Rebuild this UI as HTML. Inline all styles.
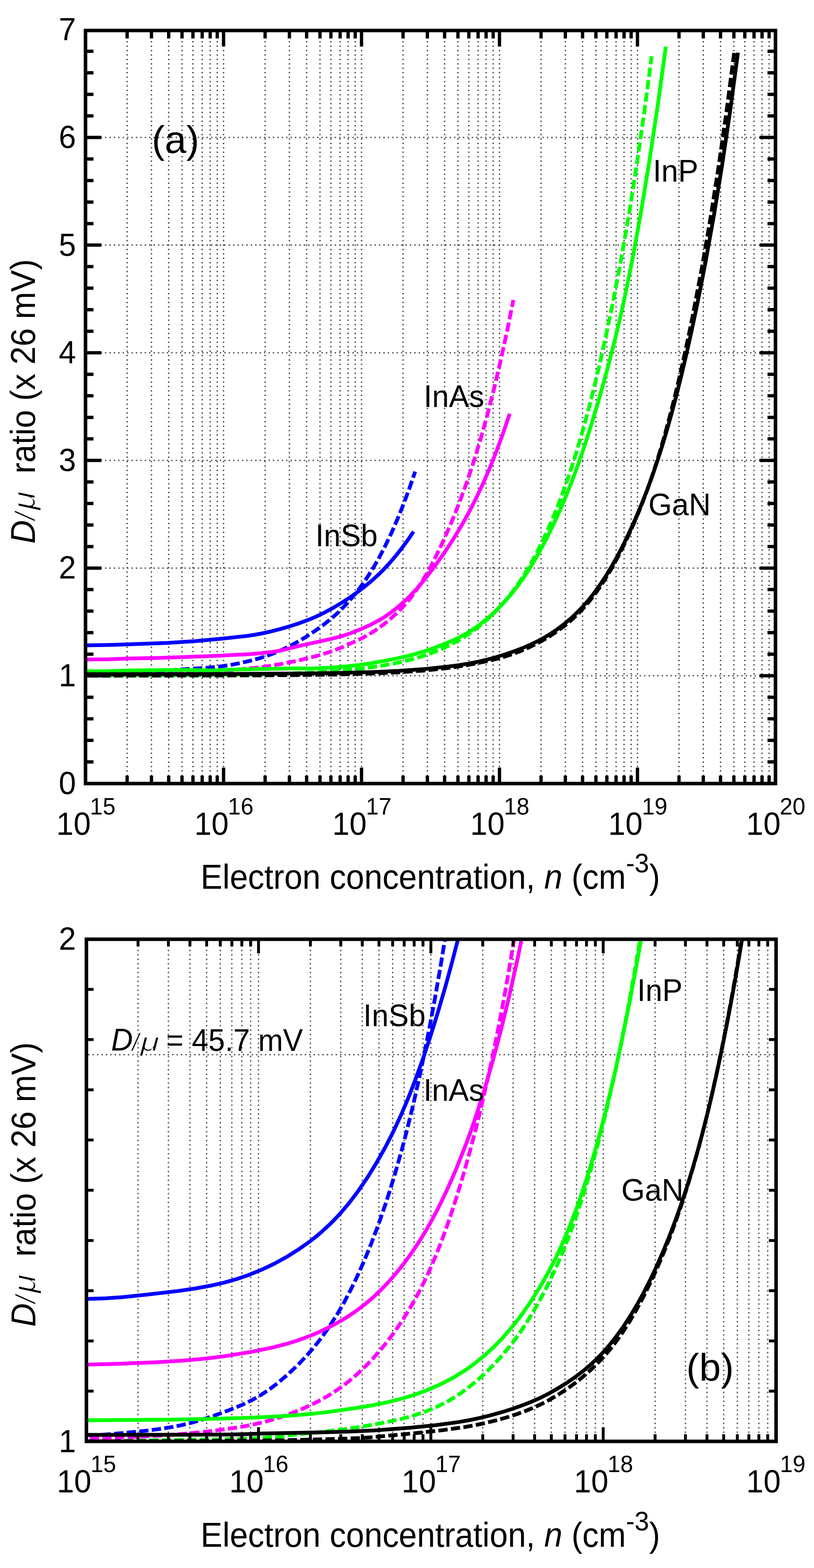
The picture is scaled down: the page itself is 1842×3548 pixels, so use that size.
<!DOCTYPE html><html><head><meta charset="utf-8"><style>html,body{margin:0;padding:0;background:#fff}svg{display:block}text{font-family:"Liberation Sans",Arial,sans-serif;fill:#000}.i{font-style:italic}</style></head><body>
<svg width="1842" height="3548" viewBox="0 0 1842 3548">
<rect width="1842" height="3548" fill="#fff"/>
<defs><clipPath id="ca"><rect x="193.5" y="69.0" width="1561.3" height="1704.0"/></clipPath><clipPath id="cb"><rect x="195.5" y="2125.3" width="1560.7" height="1136.2"/></clipPath></defs>
<path d="M287.7 73.0V1769.0M342.7 73.0V1769.0M381.7 73.0V1769.0M411.9 73.0V1769.0M436.6 73.0V1769.0M457.5 73.0V1769.0M475.6 73.0V1769.0M491.6 73.0V1769.0M505.9 73.0V1769.0M599.9 73.0V1769.0M654.9 73.0V1769.0M693.9 73.0V1769.0M724.1 73.0V1769.0M748.8 73.0V1769.0M769.7 73.0V1769.0M787.8 73.0V1769.0M803.8 73.0V1769.0M818.1 73.0V1769.0M912.1 73.0V1769.0M967.1 73.0V1769.0M1006.1 73.0V1769.0M1036.3 73.0V1769.0M1061.0 73.0V1769.0M1081.9 73.0V1769.0M1100.0 73.0V1769.0M1116.0 73.0V1769.0M1130.3 73.0V1769.0M1224.3 73.0V1769.0M1279.3 73.0V1769.0M1318.3 73.0V1769.0M1348.5 73.0V1769.0M1373.2 73.0V1769.0M1394.1 73.0V1769.0M1412.2 73.0V1769.0M1428.2 73.0V1769.0M1442.5 73.0V1769.0M1536.5 73.0V1769.0M1591.5 73.0V1769.0M1630.5 73.0V1769.0M1660.7 73.0V1769.0M1685.4 73.0V1769.0M1706.3 73.0V1769.0M1724.4 73.0V1769.0M1740.4 73.0V1769.0M197.5 1529.0H1750.8M197.5 1285.4H1750.8M197.5 1041.8H1750.8M197.5 798.2H1750.8M197.5 554.6H1750.8M197.5 311.0H1750.8" stroke="#000" stroke-width="3" stroke-dasharray="3 7" fill="none" opacity="0.72"/>
<path d="M312.4 2129.3V3257.5M381.1 2129.3V3257.5M429.8 2129.3V3257.5M467.6 2129.3V3257.5M498.5 2129.3V3257.5M524.6 2129.3V3257.5M547.2 2129.3V3257.5M567.2 2129.3V3257.5M585.0 2129.3V3257.5M702.4 2129.3V3257.5M771.1 2129.3V3257.5M819.8 2129.3V3257.5M857.6 2129.3V3257.5M888.5 2129.3V3257.5M914.6 2129.3V3257.5M937.2 2129.3V3257.5M957.2 2129.3V3257.5M975.0 2129.3V3257.5M1092.4 2129.3V3257.5M1161.1 2129.3V3257.5M1209.8 2129.3V3257.5M1247.6 2129.3V3257.5M1278.5 2129.3V3257.5M1304.6 2129.3V3257.5M1327.2 2129.3V3257.5M1347.2 2129.3V3257.5M1365.0 2129.3V3257.5M1482.4 2129.3V3257.5M1551.1 2129.3V3257.5M1599.8 2129.3V3257.5M1637.6 2129.3V3257.5M1668.5 2129.3V3257.5M1694.6 2129.3V3257.5M1717.2 2129.3V3257.5M1737.2 2129.3V3257.5M199.5 2386.5H1752.2" stroke="#000" stroke-width="3" stroke-dasharray="3 7" fill="none" opacity="0.72"/>
<g clip-path="url(#ca)" fill="none" stroke-width="8.5" stroke-linejoin="round">
<path d="M193.7,1460.2 253.0,1459.2 378.8,1454.7 442.1,1450.8 500.7,1445.3 558.5,1439.0 575.3,1436.5 591.9,1433.5 611.9,1429.2 633.2,1423.7 656.9,1416.8 678.9,1409.6 697.8,1402.6 715.7,1395.1 733.4,1386.5 751.5,1376.8 771.1,1365.2 791.3,1352.2 809.4,1339.5 826.8,1326.1 841.5,1313.8 856.2,1300.4 869.7,1286.9 883.1,1272.3 896.4,1256.7 909.7,1239.8 922.7,1222.2 935.9,1202.9" stroke="#0000ff"/>
<path d="M193.7,1526.4 272.2,1524.7 316.3,1522.9 377.3,1517.1 477.3,1510.3 499.5,1507.9 521.3,1504.7 544.6,1500.2 569.4,1494.4 591.0,1488.3 611.8,1481.3 629.4,1474.3 648.8,1465.4 667.9,1455.5 688.6,1443.5 711.6,1428.5 731.5,1414.2 750.9,1398.7 767.3,1383.9 783.4,1367.5 799.7,1348.9 814.7,1329.8 829.5,1308.8 844.0,1286.0 858.1,1261.5 872.3,1234.1 886.3,1204.8 899.7,1174.0 913.4,1140.0 926.6,1104.6 939.5,1067.2" stroke="#0000ff" stroke-dasharray="21 7.5" stroke-dashoffset="12.87"/>
<path d="M193.7,1492.2 246.3,1491.7 291.6,1490.1 359.3,1488.8 478.8,1484.6 564.0,1480.2 591.4,1477.9 614.8,1475.2 628.1,1473.1 640.0,1470.8 671.8,1462.9 750.6,1445.4 772.7,1439.7 793.6,1432.7 818.4,1422.8 840.3,1412.8 858.6,1403.0 868.8,1396.8 879.2,1389.8 889.5,1382.3 900.1,1373.9 920.1,1356.2 939.3,1336.5 959.0,1313.6 981.3,1284.7 1004.6,1252.1 1025.7,1220.0 1044.0,1189.9 1061.7,1158.1 1078.3,1125.5 1093.9,1092.4 1109.3,1056.5 1124.3,1018.7 1138.9,978.9 1153.4,936.1" stroke="#ff00ff"/>
<path d="M193.7,1527.6 279.6,1526.9 349.7,1525.8 412.2,1524.2 459.6,1522.2 482.2,1520.5 578.8,1510.9 608.3,1507.1 634.6,1502.7 678.5,1493.6 718.3,1483.8 745.4,1475.5 759.5,1470.4 774.0,1464.6 810.4,1448.3 824.1,1441.4 837.0,1434.1 850.3,1425.7 862.8,1416.8 875.4,1407.1 887.3,1397.1 898.9,1386.5 908.5,1376.8 918.1,1366.3 927.5,1355.1 936.1,1344.0 945.5,1330.7 954.4,1316.9 963.2,1302.3 972.0,1286.9 981.6,1268.6 1001.3,1228.0 1021.8,1181.4 1040.0,1135.9 1056.8,1090.1 1072.5,1042.8 1088.2,991.0 1103.3,937.0 1117.9,879.6 1132.9,815.9 1147.3,750.0 1161.7,678.9" stroke="#ff00ff" stroke-dasharray="21 7.5" stroke-dashoffset="28.10"/>
<path d="M193.7,1518.8 246.5,1518.5 297.5,1516.9 336.8,1516.4 423.9,1516.1 480.9,1516.9 531.4,1515.1 652.7,1512.5 715.4,1512.2 745.5,1510.8 781.2,1508.1 810.4,1505.1 835.8,1501.5 869.5,1495.4 899.0,1489.7 922.1,1484.4 941.6,1479.3 961.0,1473.5 982.2,1466.2 1004.5,1457.5 1026.6,1448.1 1041.3,1441.1 1054.5,1434.0 1067.6,1425.9 1082.4,1415.5 1096.2,1404.7 1111.0,1392.2 1125.2,1378.8 1139.5,1364.2 1155.0,1346.6 1169.2,1328.9 1183.2,1309.6 1197.6,1287.8 1211.5,1264.9 1225.9,1239.2 1240.4,1211.2 1254.2,1183.0 1267.6,1153.5 1280.1,1124.1 1292.7,1092.6 1304.9,1060.2 1317.1,1025.7 1328.8,990.3 1341.1,951.2 1353.5,909.7 1365.1,868.9 1376.4,827.7 1387.1,786.1 1396.9,746.3 1406.1,706.8 1415.2,665.4 1433.0,576.8 1451.4,474.7 1469.7,362.8 1488.6,236.9 1506.7,105.6" stroke="#00ff00"/>
<path d="M193.7,1528.8 359.0,1528.4 478.1,1527.7 569.1,1526.4 645.6,1524.5 711.3,1521.6 768.8,1517.7 819.1,1512.7 841.7,1509.8 864.4,1506.3 887.0,1502.2 909.2,1497.5 930.5,1492.2 948.6,1487.0 966.7,1481.1 984.4,1474.6 1001.6,1467.3 1017.9,1459.6 1034.2,1451.0 1050.0,1441.6 1065.4,1431.4 1078.1,1422.1 1092.6,1410.5 1106.2,1398.5 1117.9,1387.2 1131.1,1373.5 1145.6,1356.9 1159.6,1339.2 1173.2,1320.4 1184.9,1302.7 1196.9,1282.8 1209.0,1261.3 1221.9,1236.3 1234.4,1210.1 1246.1,1184.0 1258.2,1154.9 1269.5,1125.9 1280.8,1094.9 1292.0,1061.8 1302.8,1028.0 1313.2,993.5 1323.5,956.9 1333.9,918.1 1344.8,875.2 1355.2,831.6 1365.7,785.5 1385.9,689.8 1404.8,591.2 1422.7,488.1 1440.5,375.1 1457.8,254.8 1474.6,127.2" stroke="#00ff00" stroke-dasharray="21 7.5" stroke-dashoffset="15.96"/>
<path d="M193.7,1525.6 463.2,1525.3 705.9,1523.8 768.3,1522.8 844.0,1520.7 902.2,1518.0 959.9,1513.9 1012.5,1508.5 1038.3,1505.1 1060.5,1501.5 1080.0,1497.8 1100.6,1493.0 1121.7,1487.3 1142.2,1481.0 1165.4,1472.9 1184.5,1465.6 1201.2,1458.4 1216.8,1450.8 1232.5,1442.2 1247.1,1433.3 1261.7,1423.4 1275.3,1413.2 1287.7,1402.8 1300.7,1391.1 1315.2,1376.5 1330.6,1359.3 1344.3,1342.1 1357.8,1323.3 1371.3,1302.8 1384.3,1281.3 1398.4,1256.1 1411.5,1230.8 1425.2,1202.2 1438.6,1172.5 1451.5,1141.7 1463.5,1111.2 1475.5,1078.6 1486.9,1045.2 1498.3,1009.6 1509.1,973.5 1520.4,933.3 1531.1,892.6 1541.9,849.4 1553.2,801.4 1564.6,750.5 1575.5,699.1 1586.0,647.3 1596.6,592.8 1616.1,483.9 1634.5,370.8 1652.3,250.5 1669.9,119.2" stroke="#000000"/>
<path d="M193.7,1529.0 568.3,1528.3 677.6,1527.5 764.7,1526.2 840.9,1524.1 903.3,1521.3 957.9,1517.4 1007.9,1512.3 1033.6,1508.9 1056.8,1505.1 1079.0,1500.9 1104.3,1495.5 1125.6,1490.4 1143.8,1485.3 1159.4,1480.3 1176.6,1473.8 1193.7,1466.5 1212.5,1457.5 1229.2,1448.4 1244.9,1439.0 1260.2,1428.8 1275.6,1417.4 1289.9,1405.7 1304.1,1392.7 1318.3,1378.3 1332.2,1362.3 1345.0,1346.0 1358.1,1327.6 1371.2,1307.4 1384.8,1284.7 1398.4,1260.0 1411.5,1234.1 1424.8,1206.1 1437.1,1178.1 1449.6,1148.1 1461.5,1117.1 1472.3,1086.9 1483.1,1054.6 1493.8,1020.3 1504.4,983.8 1514.9,944.9 1525.5,903.7 1536.0,860.0 1546.6,813.6 1557.3,764.5 1567.9,712.5 1588.5,604.8 1607.6,494.5 1626.2,376.1 1643.8,253.6 1661.3,119.8" stroke="#000000" stroke-dasharray="21 7.5" stroke-dashoffset="21.61"/>
</g>
<g clip-path="url(#cb)" fill="none" stroke-width="8.5" stroke-linejoin="round">
<path d="M195.0,2939.3 239.8,2937.7 276.2,2935.2 329.1,2929.8 401.9,2921.4 442.0,2915.5 476.0,2909.3 506.8,2902.3 533.3,2894.9 561.9,2885.2 592.5,2872.9 622.0,2858.8 647.9,2844.6 674.9,2827.7 701.1,2809.1 714.8,2798.4 725.8,2789.1 747.4,2769.3 758.9,2757.6 769.4,2746.4 790.7,2721.2 810.9,2694.5 831.7,2664.1 851.4,2632.2 871.8,2596.1 889.5,2561.6 907.6,2522.8 924.5,2483.0 940.7,2441.3 956.9,2396.2 973.6,2346.2 990.4,2292.2 1007.4,2234.1 1023.4,2175.5 1039.1,2114.8 1058.4,2034.2 1077.8,1946.9 1096.1,1857.7 1114.5,1761.6 1133.0,1658.0 1150.9,1549.9 1167.9,1440.8 1184.2,1327.9 1200.4,1207.5 1216.1,1083.4 1231.7,951.2 1246.8,815.5 1261.9,671.4 1276.4,523.8 1291.0,367.4 1305.1,207.8 1319.1,39.1 1332.6,-132.4 1346.1,-313.3 1359.7,-504.2 1372.7,-697.7 1385.7,-901.3 1398.2,-1106.8 1410.6,-1322.7 1423.1,-1549.5 1435.1,-1777.7 1447.1,-2016.8 1458.5,-2256.3 1480.9,-2756.9 1503.8,-3315.4 1504.3,-3317.7 1755.0,-3317.7" stroke="#0000ff"/>
<path d="M195.0,3248.8 241.3,3245.7 285.0,3242.0 324.0,3238.1 358.0,3233.9 384.1,3229.9 407.0,3225.6 430.4,3220.1 452.7,3213.9 482.1,3204.2 519.5,3190.4 548.4,3178.6 569.5,3168.5 589.9,3156.9 610.0,3143.5 629.4,3128.7 652.4,3109.0 675.2,3087.4 693.9,3067.7 712.8,3045.7 728.5,3025.5 746.2,3000.3 764.0,2972.4 778.5,2947.2 794.6,2916.7 808.6,2887.7 825.1,2850.4 840.8,2812.1 856.5,2770.4 871.7,2726.5 883.8,2689.0 895.9,2649.0 909.6,2600.4 921.1,2556.5 934.7,2500.9 947.7,2443.6 960.1,2384.7 972.1,2324.4 984.5,2257.5 997.5,2182.9 1008.9,2113.1 1019.8,2042.5 1030.7,1967.9 1042.1,1885.2 1052.5,1805.9 1063.4,1718.0 1073.2,1634.4 1083.6,1541.9 1094.0,1444.7 1103.8,1347.8 1114.7,1235.3 1134.4,1016.4 1153.7,783.3 1172.4,536.1 1191.1,267.5 1208.8,-7.4 1226.0,-295.1 1243.1,-604.6 1260.3,-937.5 1277.5,-1295.1 1294.6,-1679.1 1310.8,-2065.3 1326.9,-2477.8 1342.5,-2903.5 1357.6,-3341.3 1372.7,-3806.6 1387.8,-4300.9 1402.3,-4807.3 1416.4,-5324.3 1430.4,-5871.0 1443.9,-6427.2 1457.5,-7014.1 1471.0,-7633.3 1484.0,-8260.9 1500.1,-9085.4 1515.7,-9935.0 1530.8,-10807.6 1545.9,-11733.9 1560.5,-12682.2 1575.0,-13686.7 1589.1,-14711.5 1603.1,-15794.7 1616.6,-16896.1 1630.2,-18057.9 1643.7,-19283.3 1656.7,-20524.9 1669.2,-21778.1 1681.7,-23094.6 1693.6,-24418.5 1706.6,-25925.4 1707.1,-25941.8 1755.0,-25941.8" stroke="#0000ff" stroke-dasharray="21 7.5" stroke-dashoffset="22.00"/>
<path d="M195.0,3087.8 272.0,3085.7 353.1,3082.4 413.5,3078.7 464.0,3074.2 488.9,3071.3 513.8,3067.9 566.8,3059.3 611.6,3050.1 631.4,3045.4 650.2,3040.3 667.4,3035.1 685.1,3029.0 703.4,3022.0 721.6,3014.3 739.3,3005.9 753.9,2998.5 770.6,2989.1 784.7,2980.6 800.9,2969.9 814.0,2960.4 827.0,2950.3 839.5,2939.8 851.5,2928.9 863.9,2916.9 877.3,2902.8 889.1,2889.5 902.6,2873.4 916.1,2856.1 929.1,2838.4 942.1,2819.3 954.0,2800.6 966.0,2780.7 977.4,2760.5 988.8,2739.0 999.7,2717.3 1012.2,2691.0 1022.6,2667.7 1034.1,2640.8 1055.0,2587.7 1066.0,2557.6 1076.5,2527.4 1095.7,2467.5 1115.3,2399.9 1134.3,2328.0 1152.8,2251.7 1171.3,2168.8 1188.8,2084.0 1206.3,1992.4 1224.0,1893.7 1240.6,1793.8 1257.2,1686.7 1273.9,1571.9 1290.2,1453.0 1306.1,1330.3 1320.9,1208.4 1335.1,1084.0 1349.2,952.2 1363.3,812.9 1377.3,665.4 1391.4,509.4 1404.9,350.8 1418.4,183.3 1431.5,13.6 1444.5,-165.1 1456.9,-345.6 1473.6,-600.6 1490.2,-872.9 1506.4,-1154.4 1522.0,-1444.4 1537.6,-1752.9 1552.7,-2069.8 1567.2,-2394.1 1581.8,-2737.7 1595.8,-3088.2 1609.9,-3458.7 1623.4,-3835.4 1636.9,-4232.7 1650.4,-4651.8 1663.4,-5076.4 1675.9,-5505.0 1688.9,-5973.5 1689.5,-5973.8 1755.0,-5973.8" stroke="#ff00ff"/>
<path d="M195.0,3255.1 249.6,3253.5 297.5,3251.7 345.9,3249.3 385.4,3246.8 420.2,3244.0 455.1,3240.6 489.5,3236.6 528.1,3231.3 553.2,3227.2 573.5,3223.2 592.8,3218.8 614.2,3213.0 635.4,3206.3 659.8,3197.6 681.1,3189.1 701.4,3180.1 722.2,3169.7 742.0,3158.6 758.6,3148.1 777.7,3134.6 793.6,3122.0 809.5,3108.2 828.0,3090.6 843.4,3074.5 862.0,3053.3 876.6,3035.2 891.8,3015.0 906.6,2993.6 920.9,2971.3 935.2,2947.2 948.9,2921.9 962.6,2894.6 975.6,2866.3 988.4,2835.8 1001.2,2802.9 1013.3,2769.0 1025.5,2732.8 1039.3,2689.0 1051.2,2648.9 1064.7,2600.4 1076.2,2556.6 1087.7,2509.9 1100.3,2455.7 1110.9,2407.6 1121.0,2359.5 1132.6,2300.5 1142.6,2246.7 1152.1,2193.0 1161.5,2136.7 1172.0,2070.9 1190.8,1943.3 1209.0,1807.3 1227.7,1654.0 1245.3,1495.8 1263.5,1318.2 1281.1,1130.6 1297.8,939.3 1317.0,699.2 1335.2,452.0 1353.4,184.1 1371.1,-97.4 1388.3,-391.9 1405.4,-708.7 1422.1,-1038.6 1438.7,-1392.2 1454.9,-1758.7 1470.5,-2137.3 1486.1,-2540.8 1501.2,-2955.8 1515.7,-3381.2 1530.3,-3832.4 1544.8,-4310.6 1558.9,-4798.9 1572.4,-5295.8 1585.9,-5820.1 1599.5,-6373.5 1612.5,-6934.3 1625.5,-7524.9 1638.0,-8121.2 1650.4,-8747.8 1662.9,-9406.1 1674.9,-10068.2 1686.9,-10762.5 1698.8,-11490.4 1710.3,-12219.5 1721.7,-12982.4 1733.2,-13780.6 1755.0,-15408.2" stroke="#ff00ff" stroke-dasharray="21 7.5" stroke-dashoffset="20.40"/>
<path d="M195.0,3213.7 370.3,3212.4 448.8,3211.2 514.9,3209.6 571.6,3207.7 620.0,3205.4 666.8,3202.4 705.8,3199.1 744.7,3194.6 803.9,3186.3 841.9,3180.0 875.8,3173.1 908.7,3164.9 937.4,3156.2 965.6,3146.0 992.7,3134.2 1005.2,3128.1 1020.4,3120.1 1032.4,3113.2 1047.0,3104.2 1059.0,3096.2 1073.0,3086.0 1094.9,3068.5 1116.7,3048.6 1130.2,3035.0 1140.6,3023.8 1160.9,3000.1 1180.9,2974.3 1200.4,2946.3 1221.6,2912.6 1240.3,2879.7 1257.9,2845.6 1274.8,2809.1 1290.4,2771.8 1305.9,2731.1 1320.6,2688.5 1337.3,2635.7 1354.9,2574.3 1371.9,2509.0 1389.5,2435.4 1406.6,2357.3 1423.3,2274.7 1440.2,2185.0 1455.6,2096.8 1471.1,2001.9 1486.1,1903.4 1500.7,1801.5 1515.3,1692.7 1529.4,1580.8 1543.6,1461.8 1557.9,1335.2 1572.3,1200.6 1585.2,1074.1 1597.5,946.3 1609.2,817.9 1620.7,683.1 1632.7,535.2 1644.2,386.7 1656.2,223.8 1667.6,60.4 1679.1,-110.9 1690.5,-290.3 1712.3,-656.6 1734.2,-1056.7 1755.0,-1471.6" stroke="#00ff00"/>
<path d="M195.0,3261.7 273.6,3261.0 353.1,3258.9 511.3,3256.5 567.4,3254.7 598.1,3253.2 620.5,3251.5 673.3,3245.6 733.0,3239.5 780.7,3233.7 823.3,3227.4 870.8,3218.7 909.2,3210.4 936.2,3203.1 962.7,3194.1 986.0,3184.5 1009.1,3173.1 1022.6,3165.3 1034.5,3157.8 1046.8,3149.4 1061.6,3138.3 1073.9,3128.5 1085.6,3118.4 1100.4,3104.8 1111.6,3093.7 1123.4,3081.4 1134.7,3068.8 1145.5,3056.1 1156.9,3042.0 1167.7,3027.6 1178.6,3012.3 1199.5,2980.4 1217.7,2949.3 1238.2,2910.7 1258.2,2868.5 1274.5,2830.5 1290.8,2788.9 1306.5,2744.8 1322.1,2696.8 1338.2,2642.7 1355.4,2579.6 1371.7,2514.9 1389.6,2437.1 1405.4,2362.2 1420.2,2286.5 1436.6,2195.7 1450.4,2113.4 1465.1,2018.3 1479.9,1916.0 1493.5,1814.0 1507.2,1704.9 1519.7,1597.7 1532.2,1483.7 1544.0,1367.9 1555.8,1245.4 1567.4,1115.8 1580.3,960.3 1593.8,788.3 1608.0,598.0 1620.9,417.4 1633.3,233.9 1645.3,48.4 1656.7,-138.3 1668.1,-334.4 1679.6,-540.3 1690.5,-746.4 1701.9,-972.7 1712.9,-1199.0 1734.2,-1671.6 1755.0,-2174.3" stroke="#00ff00" stroke-dasharray="21 7.5" stroke-dashoffset="28.00"/>
<path d="M195.0,3246.7 411.4,3246.6 518.0,3245.9 550.3,3245.3 600.2,3243.6 719.8,3241.3 790.1,3239.2 846.8,3236.7 929.4,3230.6 986.1,3224.8 1037.1,3217.9 1062.0,3213.5 1084.9,3208.7 1109.7,3202.6 1134.6,3195.7 1160.0,3187.7 1184.4,3179.0 1205.3,3170.7 1225.1,3161.8 1242.3,3153.0 1262.1,3141.8 1281.5,3129.7 1301.5,3115.9 1317.5,3103.9 1332.9,3091.1 1348.2,3077.0 1362.9,3062.0 1378.5,3044.3 1395.5,3022.8 1409.8,3002.9 1426.7,2977.2 1442.9,2949.8 1456.7,2924.7 1472.1,2894.5 1485.5,2866.1 1500.5,2831.9 1513.1,2801.4 1527.8,2763.1 1539.9,2729.3 1553.6,2688.3 1565.2,2651.1 1576.7,2611.6 1589.2,2565.6 1599.6,2524.9 1611.5,2475.1 1621.8,2429.3 1633.2,2375.9 1644.5,2319.3 1655.4,2262.1 1666.3,2201.6 1676.7,2140.7 1696.4,2016.1 1716.7,1874.8 1736.0,1727.3 1754.8,1570.2" stroke="#000000"/>
<path d="M195.0,3261.3 413.0,3260.8 566.9,3259.8 685.5,3258.0 782.3,3255.3 813.5,3253.9 837.4,3252.4 943.3,3242.6 999.3,3236.4 1050.8,3229.2 1073.7,3225.1 1098.7,3219.8 1123.6,3213.7 1149.1,3206.5 1170.0,3199.7 1190.9,3192.0 1210.7,3183.7 1227.9,3175.6 1245.0,3166.5 1264.7,3154.8 1284.4,3141.8 1300.6,3130.1 1316.3,3117.7 1332.5,3103.7 1347.8,3089.4 1363.5,3073.0 1381.1,3052.6 1396.0,3033.2 1410.8,3012.1 1427.4,2985.7 1441.5,2961.3 1458.2,2929.9 1474.6,2896.5 1488.0,2867.1 1503.6,2830.3 1516.7,2797.2 1529.3,2763.0 1542.0,2726.4 1554.2,2688.8 1567.9,2643.3 1580.1,2600.2 1591.2,2558.2 1602.2,2513.7 1613.3,2466.5 1625.3,2411.6 1635.8,2360.9 1647.4,2301.8 1657.4,2247.9 1666.8,2194.2 1677.8,2128.2 1697.8,1999.0 1717.7,1856.2 1737.1,1703.1 1755.4,1544.3" stroke="#000000" stroke-dasharray="21 7.5" stroke-dashoffset="0.00"/>
</g>
<rect x="193.5" y="69.0" width="1561.3" height="1704.0" fill="none" stroke="#000" stroke-width="8"/>
<rect x="195.5" y="2125.3" width="1560.7" height="1136.2" fill="none" stroke="#000" stroke-width="8"/>
<path d="M287.7 1773.0v-18.0M287.7 69.0v18.0M342.7 1773.0v-18.0M342.7 69.0v18.0M381.7 1773.0v-18.0M381.7 69.0v18.0M411.9 1773.0v-18.0M411.9 69.0v18.0M436.6 1773.0v-18.0M436.6 69.0v18.0M457.5 1773.0v-18.0M457.5 69.0v18.0M475.6 1773.0v-18.0M475.6 69.0v18.0M491.6 1773.0v-18.0M491.6 69.0v18.0M505.9 1773.0v-36.0M505.9 69.0v36.0M599.9 1773.0v-18.0M599.9 69.0v18.0M654.9 1773.0v-18.0M654.9 69.0v18.0M693.9 1773.0v-18.0M693.9 69.0v18.0M724.1 1773.0v-18.0M724.1 69.0v18.0M748.8 1773.0v-18.0M748.8 69.0v18.0M769.7 1773.0v-18.0M769.7 69.0v18.0M787.8 1773.0v-18.0M787.8 69.0v18.0M803.8 1773.0v-18.0M803.8 69.0v18.0M818.1 1773.0v-36.0M818.1 69.0v36.0M912.1 1773.0v-18.0M912.1 69.0v18.0M967.1 1773.0v-18.0M967.1 69.0v18.0M1006.1 1773.0v-18.0M1006.1 69.0v18.0M1036.3 1773.0v-18.0M1036.3 69.0v18.0M1061.0 1773.0v-18.0M1061.0 69.0v18.0M1081.9 1773.0v-18.0M1081.9 69.0v18.0M1100.0 1773.0v-18.0M1100.0 69.0v18.0M1116.0 1773.0v-18.0M1116.0 69.0v18.0M1130.3 1773.0v-36.0M1130.3 69.0v36.0M1224.3 1773.0v-18.0M1224.3 69.0v18.0M1279.3 1773.0v-18.0M1279.3 69.0v18.0M1318.3 1773.0v-18.0M1318.3 69.0v18.0M1348.5 1773.0v-18.0M1348.5 69.0v18.0M1373.2 1773.0v-18.0M1373.2 69.0v18.0M1394.1 1773.0v-18.0M1394.1 69.0v18.0M1412.2 1773.0v-18.0M1412.2 69.0v18.0M1428.2 1773.0v-18.0M1428.2 69.0v18.0M1442.5 1773.0v-36.0M1442.5 69.0v36.0M1536.5 1773.0v-18.0M1536.5 69.0v18.0M1591.5 1773.0v-18.0M1591.5 69.0v18.0M1630.5 1773.0v-18.0M1630.5 69.0v18.0M1660.7 1773.0v-18.0M1660.7 69.0v18.0M1685.4 1773.0v-18.0M1685.4 69.0v18.0M1706.3 1773.0v-18.0M1706.3 69.0v18.0M1724.4 1773.0v-18.0M1724.4 69.0v18.0M1740.4 1773.0v-18.0M1740.4 69.0v18.0M193.5 1529.0h36.0M1754.8 1529.0h-36.0M193.5 1285.4h36.0M1754.8 1285.4h-36.0M193.5 1041.8h36.0M1754.8 1041.8h-36.0M193.5 798.2h36.0M1754.8 798.2h-36.0M193.5 554.6h36.0M1754.8 554.6h-36.0M193.5 311.0h36.0M1754.8 311.0h-36.0M193.5 1723.9h18.0M1754.8 1723.9h-18.0M193.5 1675.2h18.0M1754.8 1675.2h-18.0M193.5 1626.4h18.0M1754.8 1626.4h-18.0M193.5 1577.7h18.0M1754.8 1577.7h-18.0M193.5 1480.3h18.0M1754.8 1480.3h-18.0M193.5 1431.6h18.0M1754.8 1431.6h-18.0M193.5 1382.8h18.0M1754.8 1382.8h-18.0M193.5 1334.1h18.0M1754.8 1334.1h-18.0M193.5 1236.7h18.0M1754.8 1236.7h-18.0M193.5 1188.0h18.0M1754.8 1188.0h-18.0M193.5 1139.2h18.0M1754.8 1139.2h-18.0M193.5 1090.5h18.0M1754.8 1090.5h-18.0M193.5 993.1h18.0M1754.8 993.1h-18.0M193.5 944.4h18.0M1754.8 944.4h-18.0M193.5 895.6h18.0M1754.8 895.6h-18.0M193.5 846.9h18.0M1754.8 846.9h-18.0M193.5 749.5h18.0M1754.8 749.5h-18.0M193.5 700.8h18.0M1754.8 700.8h-18.0M193.5 652.0h18.0M1754.8 652.0h-18.0M193.5 603.3h18.0M1754.8 603.3h-18.0M193.5 505.9h18.0M1754.8 505.9h-18.0M193.5 457.2h18.0M1754.8 457.2h-18.0M193.5 408.4h18.0M1754.8 408.4h-18.0M193.5 359.7h18.0M1754.8 359.7h-18.0M193.5 262.3h18.0M1754.8 262.3h-18.0M193.5 213.6h18.0M1754.8 213.6h-18.0M193.5 164.8h18.0M1754.8 164.8h-18.0M193.5 116.1h18.0M1754.8 116.1h-18.0" stroke="#000" stroke-width="7.5" fill="none"/>
<path d="M312.4 3261.5v-16.3M312.4 2125.3v16.3M381.1 3261.5v-16.3M381.1 2125.3v16.3M429.8 3261.5v-16.3M429.8 2125.3v16.3M467.6 3261.5v-16.3M467.6 2125.3v16.3M498.5 3261.5v-16.3M498.5 2125.3v16.3M524.6 3261.5v-16.3M524.6 2125.3v16.3M547.2 3261.5v-16.3M547.2 2125.3v16.3M567.2 3261.5v-16.3M567.2 2125.3v16.3M585.0 3261.5v-32.0M585.0 2125.3v32.0M702.4 3261.5v-16.3M702.4 2125.3v16.3M771.1 3261.5v-16.3M771.1 2125.3v16.3M819.8 3261.5v-16.3M819.8 2125.3v16.3M857.6 3261.5v-16.3M857.6 2125.3v16.3M888.5 3261.5v-16.3M888.5 2125.3v16.3M914.6 3261.5v-16.3M914.6 2125.3v16.3M937.2 3261.5v-16.3M937.2 2125.3v16.3M957.2 3261.5v-16.3M957.2 2125.3v16.3M975.0 3261.5v-32.0M975.0 2125.3v32.0M1092.4 3261.5v-16.3M1092.4 2125.3v16.3M1161.1 3261.5v-16.3M1161.1 2125.3v16.3M1209.8 3261.5v-16.3M1209.8 2125.3v16.3M1247.6 3261.5v-16.3M1247.6 2125.3v16.3M1278.5 3261.5v-16.3M1278.5 2125.3v16.3M1304.6 3261.5v-16.3M1304.6 2125.3v16.3M1327.2 3261.5v-16.3M1327.2 2125.3v16.3M1347.2 3261.5v-16.3M1347.2 2125.3v16.3M1365.0 3261.5v-32.0M1365.0 2125.3v32.0M1482.4 3261.5v-16.3M1482.4 2125.3v16.3M1551.1 3261.5v-16.3M1551.1 2125.3v16.3M1599.8 3261.5v-16.3M1599.8 2125.3v16.3M1637.6 3261.5v-16.3M1637.6 2125.3v16.3M1668.5 3261.5v-16.3M1668.5 2125.3v16.3M1694.6 3261.5v-16.3M1694.6 2125.3v16.3M1717.2 3261.5v-16.3M1717.2 2125.3v16.3M1737.2 3261.5v-16.3M1737.2 2125.3v16.3M195.5 3147.8h16.3M1756.2 3147.8h-16.3M195.5 3034.2h16.3M1756.2 3034.2h-16.3M195.5 2920.6h16.3M1756.2 2920.6h-16.3M195.5 2806.9h16.3M1756.2 2806.9h-16.3M195.5 2693.2h16.3M1756.2 2693.2h-16.3M195.5 2579.6h16.3M1756.2 2579.6h-16.3M195.5 2465.9h16.3M1756.2 2465.9h-16.3M195.5 2352.3h16.3M1756.2 2352.3h-16.3M195.5 2238.7h16.3M1756.2 2238.7h-16.3" stroke="#000" stroke-width="6.5" fill="none"/>
<text x="172" y="1796.7" font-size="70" text-anchor="end" transform="matrix(1 0 0 1.040 0 -71.87)">0</text>
<text x="172" y="1553.1" font-size="70" text-anchor="end" transform="matrix(1 0 0 1.040 0 -62.12)">1</text>
<text x="172" y="1309.5" font-size="70" text-anchor="end" transform="matrix(1 0 0 1.040 0 -52.38)">2</text>
<text x="172" y="1065.9" font-size="70" text-anchor="end" transform="matrix(1 0 0 1.040 0 -42.64)">3</text>
<text x="172" y="822.3" font-size="70" text-anchor="end" transform="matrix(1 0 0 1.040 0 -32.89)">4</text>
<text x="172" y="578.7" font-size="70" text-anchor="end" transform="matrix(1 0 0 1.040 0 -23.15)">5</text>
<text x="172" y="335.1" font-size="70" text-anchor="end" transform="matrix(1 0 0 1.040 0 -13.40)">6</text>
<text x="172" y="91.5" font-size="70" text-anchor="end" transform="matrix(1 0 0 1.040 0 -3.66)">7</text>
<text x="172" y="3285.6" font-size="70" text-anchor="end" transform="matrix(1 0 0 1.040 0 -131.42)">1</text>
<text x="172" y="2149.1" font-size="70" text-anchor="end" transform="matrix(1 0 0 1.040 0 -85.96)">2</text>
<text x="127.5" y="1889.0" font-size="70" transform="matrix(1 0 0 1.040 0 -75.56)">10</text>
<text x="203.6" y="1843.5" font-size="52" transform="matrix(1 0 0 1.040 0 -73.74)">15</text>
<text x="439.7" y="1889.0" font-size="70" transform="matrix(1 0 0 1.040 0 -75.56)">10</text>
<text x="515.8" y="1843.5" font-size="52" transform="matrix(1 0 0 1.040 0 -73.74)">16</text>
<text x="751.9" y="1889.0" font-size="70" transform="matrix(1 0 0 1.040 0 -75.56)">10</text>
<text x="828.0" y="1843.5" font-size="52" transform="matrix(1 0 0 1.040 0 -73.74)">17</text>
<text x="1064.1" y="1889.0" font-size="70" transform="matrix(1 0 0 1.040 0 -75.56)">10</text>
<text x="1140.2" y="1843.5" font-size="52" transform="matrix(1 0 0 1.040 0 -73.74)">18</text>
<text x="1376.3" y="1889.0" font-size="70" transform="matrix(1 0 0 1.040 0 -75.56)">10</text>
<text x="1452.4" y="1843.5" font-size="52" transform="matrix(1 0 0 1.040 0 -73.74)">19</text>
<text x="1688.5" y="1889.0" font-size="70" transform="matrix(1 0 0 1.040 0 -75.56)">10</text>
<text x="1764.6" y="1843.5" font-size="52" transform="matrix(1 0 0 1.040 0 -73.74)">20</text>
<text x="128.8" y="3377.0" font-size="70" transform="matrix(1 0 0 1.040 0 -135.08)">10</text>
<text x="204.9" y="3331.5" font-size="52" transform="matrix(1 0 0 1.040 0 -133.26)">15</text>
<text x="518.8" y="3377.0" font-size="70" transform="matrix(1 0 0 1.040 0 -135.08)">10</text>
<text x="594.9" y="3331.5" font-size="52" transform="matrix(1 0 0 1.040 0 -133.26)">16</text>
<text x="908.8" y="3377.0" font-size="70" transform="matrix(1 0 0 1.040 0 -135.08)">10</text>
<text x="984.9" y="3331.5" font-size="52" transform="matrix(1 0 0 1.040 0 -133.26)">17</text>
<text x="1298.8" y="3377.0" font-size="70" transform="matrix(1 0 0 1.040 0 -135.08)">10</text>
<text x="1374.9" y="3331.5" font-size="52" transform="matrix(1 0 0 1.040 0 -133.26)">18</text>
<text x="1688.8" y="3377.0" font-size="70" transform="matrix(1 0 0 1.040 0 -135.08)">10</text>
<text x="1764.9" y="3331.5" font-size="52" transform="matrix(1 0 0 1.040 0 -133.26)">19</text>
<text y="2010.7" font-size="74" transform="matrix(1 0 0 1.040 0 -80.43)"><tspan x="454.1">Electron concentration, </tspan><tspan class="i">n</tspan><tspan> (cm</tspan><tspan font-size="59" dy="-35.6">-3</tspan><tspan dy="35.6">)</tspan></text>
<text y="3499.6" font-size="74" transform="matrix(1 0 0 1.040 0 -139.98)"><tspan x="454.1">Electron concentration, </tspan><tspan class="i">n</tspan><tspan> (cm</tspan><tspan font-size="59" dy="-35.6">-3</tspan><tspan dy="35.6">)</tspan></text>
<g transform="rotate(-90)">
<text y="78.6" font-size="74" class="i" x="-1230.3" transform="matrix(1 0 0 1.040 0 -3.14)">D</text>
<text y="78.6" font-size="61" class="i" x="-1176.8" stroke="#fff" stroke-width="1.3" transform="matrix(1 0 0 1.040 0 -3.14)">/</text>
<text transform="translate(-1154.0 78.6) scale(1.12 1.04)" font-size="69" class="i" stroke="#fff" stroke-width="1.8">μ</text>
<text y="78.6" font-size="74" x="-1071.6" transform="matrix(1 0 0 1.040 0 -3.14)">ratio (x 26 mV)</text>
</g>
<g transform="rotate(-90)">
<text y="80.0" font-size="74" class="i" x="-3002.3" transform="matrix(1 0 0 1.040 0 -3.20)">D</text>
<text y="80.0" font-size="61" class="i" x="-2948.8" stroke="#fff" stroke-width="1.3" transform="matrix(1 0 0 1.040 0 -3.20)">/</text>
<text transform="translate(-2926.0 80.0) scale(1.12 1.04)" font-size="69" class="i" stroke="#fff" stroke-width="1.8">μ</text>
<text y="80.0" font-size="74" x="-2843.6" transform="matrix(1 0 0 1.040 0 -3.20)">ratio (x 26 mV)</text>
</g>
<text x="343.4" y="346.5" font-size="88" transform="matrix(1 0 0 0.98 0 6.93)">(a)</text>
<text x="1553.0" y="3124" font-size="88" transform="matrix(1 0 0 0.98 0 62.48)">(b)</text>
<text x="713.8" y="1236.5" font-size="68.5" transform="matrix(1 0 0 1.040 0 -49.46)">InSb</text>
<text x="958.7" y="921.0" font-size="68.5" transform="matrix(1 0 0 1.040 0 -36.84)">InAs</text>
<text x="1477.5" y="411.0" font-size="68.5" transform="matrix(1 0 0 1.040 0 -16.44)">InP</text>
<text x="1467.3" y="1165.8" font-size="68.5" transform="matrix(1 0 0 1.040 0 -46.63)">GaN</text>
<text x="822.1" y="2322.3" font-size="68.5" transform="matrix(1 0 0 1.040 0 -92.89)">InSb</text>
<text x="958.2" y="2490.8" font-size="68.5" transform="matrix(1 0 0 1.040 0 -99.63)">InAs</text>
<text x="1441.7" y="2264.8" font-size="68.5" transform="matrix(1 0 0 1.040 0 -90.59)">InP</text>
<text x="1406.0" y="2717.5" font-size="68.5" transform="matrix(1 0 0 1.040 0 -108.70)">GaN</text>
<text x="251.5" y="2377.5" font-size="68" class="i" transform="matrix(1 0 0 1.040 0 -95.10)">D</text>
<text x="299.3" y="2377.5" font-size="54" class="i" stroke="#fff" stroke-width="1.2" transform="matrix(1 0 0 1.040 0 -95.10)">/</text>
<text transform="translate(317.4 2377.5) scale(1.38 1.04)" font-size="57" class="i" stroke="#fff" stroke-width="1.5">μ</text>
<text x="375.9" y="2378" font-size="67.5" transform="matrix(1 0 0 1.040 0 -95.12)">= 45.7 mV</text>
</svg></body></html>
